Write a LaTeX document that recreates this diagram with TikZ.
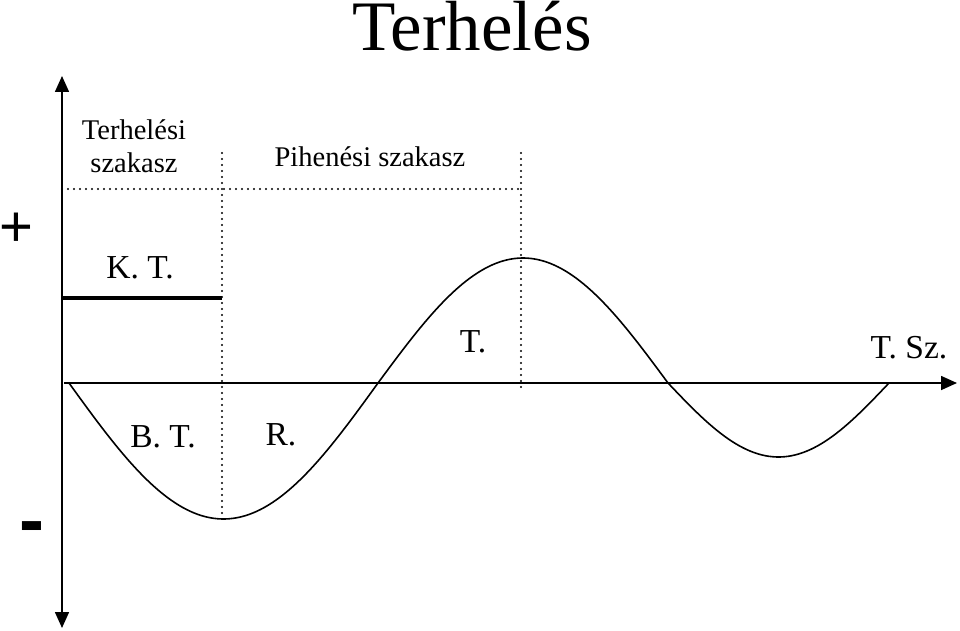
\documentclass[tikz,border=0pt]{standalone}
\usepackage{fontspec}
\setmainfont{Liberation Serif}
\newfontfamily\signfont{Liberation Sans}
\usetikzlibrary{arrows.meta}
\begin{document}
\begin{tikzpicture}[x=1pt,y=-1pt,
  axisline/.style={line width=1.6pt,-{Triangle[length=16pt,width=14pt]}},
  dotline/.style={line width=2.4pt,dash pattern=on 0pt off 6pt,line cap=round},
  wave/.style={line width=1.6pt},
  lbl/.style={inner sep=0pt,font=\fontsize{33.5}{36}\selectfont},
  slbl/.style={inner sep=0pt,font=\fontsize{28.5}{33}\selectfont,align=center},
  sign/.style={inner sep=0pt,font=\signfont\fontsize{58}{60}\selectfont}]
\useasboundingbox (0,0) rectangle (960,631);
% coordinates
\coordinate (vmid) at (62,383);
\coordinate (vtop) at (62,76);
\coordinate (vbot) at (62,628);
\coordinate (hstart) at (64,383);
\coordinate (hend) at (957,383);
\coordinate (dl) at (62,189);
\coordinate (dr) at (521,189);
\coordinate (v1t) at (222,153);
\coordinate (v1b) at (222,518);
\coordinate (v2t) at (521,153);
\coordinate (v2b) at (521,392);
\coordinate (kts) at (62,298);
\coordinate (kte) at (222,298);
% axes
\draw[axisline] (vmid) -- (vtop);
\draw[axisline] (vmid) -- (vbot);
\draw[axisline] (hstart) -- (hend);
% dotted guides
\draw[dotline] (dl) -- (dr);
\draw[dotline] (v1t) -- (v1b);
\draw[dotline] (v2t) -- (v2b);
% thick load line
\draw[line width=4pt] (kts) -- (kte);
% wave
\draw[wave] plot[domain=69:378,samples=80] (\x,{383+136*sin((\x-69)/309*180)});
\draw[wave] plot[domain=378:668,samples=80] (\x,{383-125*sin((\x-378)/290*180)});
\draw[wave] plot[domain=668:889,samples=60] (\x,{383+74*sin((\x-668)/221*180)});
% texts
\node[inner sep=0pt,font=\fontsize{71}{74}\selectfont] (title) at (472,26) {Terhelés};
\node[slbl] (tsz) at (134,146) {Terhelési\\szakasz};
\node[slbl] (psz) at (370,157) {Pihenési szakasz};
\node[lbl] (kt) at (140,268) {K. T.};
\node[lbl] (t) at (473,342) {T.};
\node[lbl] (tsz2) at (909,348) {T. Sz.};
\node[lbl] (bt) at (163,437) {B. T.};
\node[lbl] (r) at (281,435) {R.};
\node[sign] (plus) at (16,230) {+};
\node[sign,font=\signfont\bfseries\fontsize{75}{78}\selectfont] (minus) at (32,534) {-};
\end{tikzpicture}
\end{document}
